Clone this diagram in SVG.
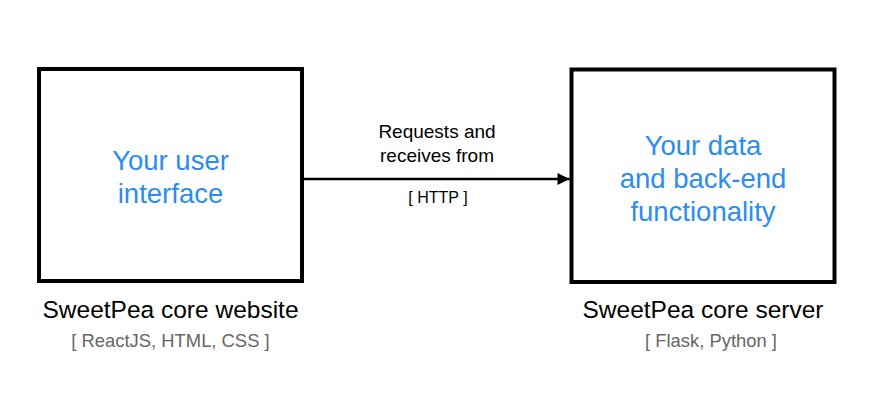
<svg xmlns="http://www.w3.org/2000/svg" width="884" height="415" viewBox="0 0 884 415">
<style>
.box{fill:#ffffff;stroke:#000000;stroke-width:4}
.inner{font-family:"Liberation Sans",Arial,sans-serif;font-size:27.5px;fill:#2b8cf2;text-anchor:middle}
.title{font-family:"Liberation Sans",Arial,sans-serif;font-size:24.5px;fill:#000000;text-anchor:middle}
.tech{font-family:"Liberation Sans",Arial,sans-serif;font-size:18.4px;fill:#666666;text-anchor:middle}
.elabel{font-family:"Liberation Sans",Arial,sans-serif;font-size:19px;fill:#000000;text-anchor:middle}
.etech{font-family:"Liberation Sans",Arial,sans-serif;font-size:16px;fill:#000000;text-anchor:middle}
.conn{stroke:#000000;stroke-width:2.7;fill:none}
</style>
<defs>
<marker id="arrow" viewBox="0 0 10 10" refX="10" refY="5" markerWidth="12.5" markerHeight="12" markerUnits="userSpaceOnUse" orient="auto">
<path d="M0,0 L10,5 L0,10 Z" fill="#000000"/>
</marker>
</defs>
<rect width="884" height="415" fill="#ffffff"/>
<g id="connectors">
<line class="conn" x1="304" y1="179" x2="569.5" y2="179" marker-end="url(#arrow)"/>
<text class="elabel" x="437" y="138">Requests and</text>
<text class="elabel" x="437" y="162">receives from</text>
<text class="etech" x="438" y="203">[ HTTP ]</text>
</g>
<g id="website">
<rect class="box" x="39" y="69" width="263" height="212"/>
<text class="inner" x="170.5" y="170">Your user</text>
<text class="inner" x="170.5" y="202.5">interface</text>
<text class="title" x="170.5" y="318">SweetPea core website</text>
<text class="tech" x="170.5" y="347">[ ReactJS, HTML, CSS ]</text>
</g>
<g id="server">
<rect class="box" x="571.5" y="69.5" width="263" height="212.5"/>
<text class="inner" x="703" y="155">Your data</text>
<text class="inner" x="703" y="188">and back-end</text>
<text class="inner" x="703" y="221">functionality</text>
<text class="title" x="703" y="318">SweetPea core server</text>
<text class="tech" x="711" y="347">[ Flask, Python ]</text>
</g>
</svg>
